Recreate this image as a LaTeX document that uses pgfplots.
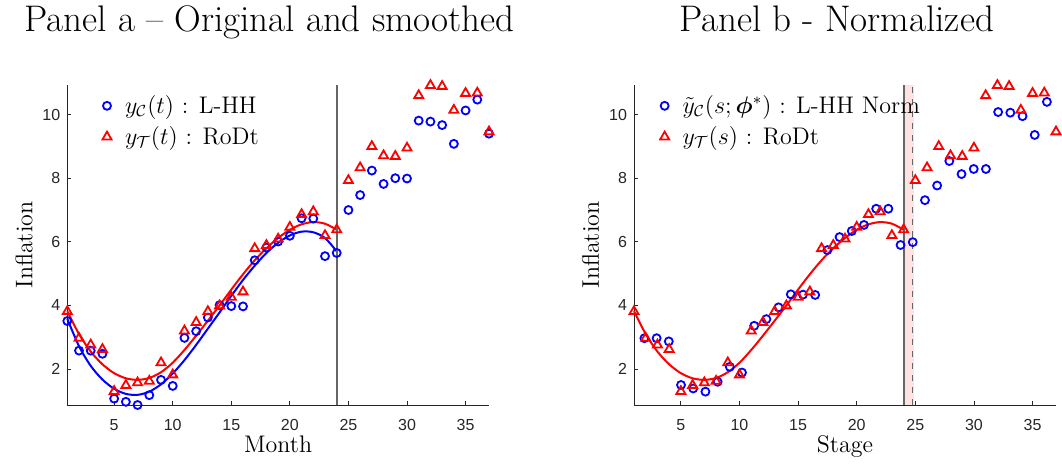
\documentclass[border=0pt]{standalone}
\usepackage{fontspec}
\usepackage{amsmath}
\usepackage{bm}
\usepackage{pgfplots}
\pgfplotsset{compat=1.18}
\newfontfamily\ticksans{Liberation Sans}
\definecolor{bandpink}{RGB}{255,226,226}
\definecolor{axgray}{gray}{0.15}
\definecolor{vlgray}{gray}{0.40}

\pgfplotstableread{
t v
1 3.81
2 2.97
3 2.76
4 2.62
5 1.30
6 1.49
7 1.57
8 1.62
9 2.20
10 1.82
11 3.20
12 3.47
13 3.81
14 3.99
15 4.26
16 4.43
17 5.79
18 5.89
19 6.09
20 6.46
21 6.86
22 6.95
23 6.20
24 6.38
25 7.93
26 8.33
27 9.00
28 8.71
29 8.69
30 8.95
31 10.60
32 10.92
33 10.89
34 10.14
35 10.67
36 10.68
37 9.46
}\tritable

\pgfplotstableread{
t v
1 3.51
2 2.58
3 2.58
4 2.48
5 1.07
6 0.97
7 0.87
8 1.18
9 1.66
10 1.47
11 2.98
12 3.19
13 3.62
14 4.01
15 3.98
16 3.97
17 5.42
18 5.82
19 6.01
20 6.19
21 6.74
22 6.73
23 5.55
24 5.65
25 7.00
26 7.47
27 8.24
28 7.82
29 8.00
30 7.99
31 9.81
32 9.78
33 9.67
34 9.08
35 10.13
36 10.47
37 9.40
}\circtable

\pgfplotstableread{
s v
1.889 2.97
2.930 2.97
3.970 2.87
5.011 1.50
6.051 1.39
7.092 1.29
8.132 1.60
9.173 2.07
10.213 1.89
11.254 3.36
12.294 3.57
13.335 3.94
14.375 4.35
15.416 4.34
16.456 4.33
17.497 5.74
18.537 6.15
19.578 6.34
20.618 6.53
21.659 7.04
22.699 7.04
23.740 5.90
24.780 5.99
25.821 7.31
26.861 7.77
27.902 8.54
28.942 8.13
29.983 8.29
31.023 8.29
32.064 10.08
33.104 10.06
34.145 9.95
35.185 9.36
36.226 10.40
}\normtable

\pgfplotstableread{
t v
1 3.82
2 3.10
3 2.55
4 2.15
5 1.87
6 1.71
7 1.66
8 1.72
9 1.90
10 2.20
11 2.60
12 3.05
13 3.52
14 4.00
15 4.50
16 4.98
17 5.42
18 5.80
19 6.12
20 6.38
21 6.55
22 6.62
23 6.57
24 6.38
}\redfit

\pgfplotstableread{
t v
1 3.58
2 2.72
3 2.10
4 1.67
5 1.38
6 1.22
7 1.19
8 1.29
9 1.52
10 1.86
11 2.28
12 2.76
13 3.27
14 3.78
15 4.30
16 4.80
17 5.25
18 5.65
19 5.97
20 6.20
21 6.32
22 6.30
23 6.12
24 5.70
}\bluefit

\pgfplotsset{
  every axis title/.style={at={(axis description cs:0.48,1.166)}, anchor=base, inner sep=0pt,
      font=\fontsize{18.5}{21}\selectfont},
  panel/.style={
    scale only axis, height=160pt,
    xmin=1, xmax=37, ymin=0.87, ymax=10.93,
    enlargelimits=false, clip=false,
    axis x line=bottom, axis y line=left,
    axis line style={-, draw=axgray, line width=0.45pt},
    tick align=inside, major tick length=2pt,
    tick style={draw=axgray, line width=0.4pt},
    xtick={5,10,...,35}, ytick={2,4,...,10},
    /pgf/number format/assume math mode=true,
    tick label style={font=\ticksans\fontsize{8}{9}\selectfont, text=axgray},
    xticklabel style={yshift=-3.8pt},
    label style={font=\fontsize{12}{14}\selectfont},
    xlabel style={at={(axis description cs:0.5,-0.147)}, anchor=base, inner sep=0pt},
    ylabel style={at={(axis description cs:-0.083,0.5)}, anchor=base, inner sep=0pt},
    legend cell align=left,
    legend image code/.code={\path[draw=none,fill=none] (0pt,-1pt) rectangle (11pt,1pt); \draw[mark repeat=2,mark phase=2,##1] plot coordinates {(0pt,0pt) (4pt,0pt) (11pt,0pt)};},
  },
  circ/.style={only marks, mark=o, mark size=2pt, color=blue, line width=0.9pt},
  tri/.style={only marks, mark=triangle, mark size=2.6pt, color=red, line width=0.9pt},
}

\begin{document}
\begin{tikzpicture}
\path[use as bounding box] (0,0) rectangle (531pt,231.5pt);

\begin{axis}[panel, at={(33.65pt,29pt)}, anchor=south west, width=210.85pt,
  title={Panel a – Original and smoothed}, xlabel={Month}, ylabel={Inflation},
  legend style={draw=none, fill=none, at={(axis description cs:0.060,0.994)}, anchor=north west,
    font=\fontsize{12}{14}\selectfont, row sep=1pt}]
\addplot[circ] table[x=t,y=v] {\circtable};
\addlegendentry{$y_{\mathcal{C}}(t)$ : L-HH}
\addplot[tri] table[x=t,y=v] {\tritable};
\addlegendentry{$y_{\mathcal{T}}(t)$ : RoDt}
\addplot[blue, line width=1pt, smooth, forget plot] table[x=t,y=v] {\bluefit};
\addplot[red, line width=1pt, smooth, forget plot] table[x=t,y=v] {\redfit};
\addplot[vlgray, line width=0.85pt, forget plot] coordinates {(24,0.87) (24,10.93)};
\end{axis}

\begin{axis}[panel, at={(317pt,29pt)}, anchor=south west, width=211pt,
  title={Panel b - Normalized}, xlabel={Stage}, ylabel={Inflation},
  legend style={draw=none, fill=none, at={(axis description cs:0.0385,0.994)}, anchor=north west,
    font=\fontsize{12}{14}\selectfont, row sep=1pt}]
\addplot[fill=bandpink, draw=none, forget plot] coordinates {(24.04,0.87) (24.85,0.87) (24.85,10.93) (24.04,10.93)} -- cycle;
\addplot[vlgray, line width=0.9pt, forget plot] coordinates {(24.04,0.87) (24.04,10.93)};
\addplot[vlgray, line width=0.6pt, dashed, forget plot] coordinates {(24.78,0.87) (24.78,10.93)};
\addplot[circ] table[x=s,y=v] {\normtable};
\addlegendentry{$\tilde{y}_{\mathcal{C}}(s;\bm{\phi}^{*})$ : L-HH Norm}
\addplot[tri] table[x=t,y=v] {\tritable};
\addlegendentry{$y_{\mathcal{T}}(s)$ : RoDt}
\addplot[red, line width=1pt, smooth, forget plot] table[x=t,y=v] {\redfit};
\end{axis}
\end{tikzpicture}
\end{document}
